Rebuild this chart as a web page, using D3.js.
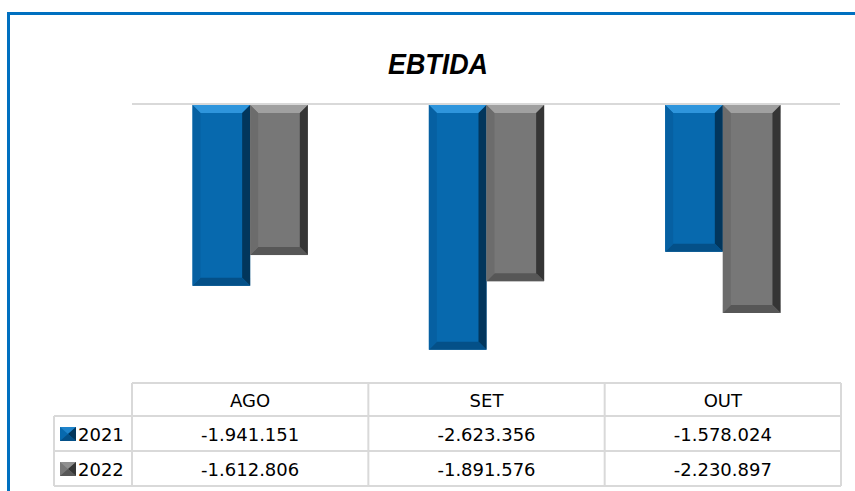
<!DOCTYPE html>
<html>
<head>
<meta charset="utf-8">
<script src="https://cdn.jsdelivr.net/npm/d3@7"></script>
<style>
  html, body { margin: 0; padding: 0; background: #ffffff; }
  svg { display: block; }
</style>
</head>
<body>
<svg id="chart" width="855" height="491"></svg>
<script>
const title = "EBTIDA";
const categories = ["AGO", "SET", "OUT"];
const seriesNames = ["2021", "2022"];
const values2021 = [-1941151, -2623356, -1578024];
const values2022 = [-1612806, -1891576, -2230897];
const yDomain = [-3000000, 0];

const seriesValues = [values2021, values2022];
const palette = {
  "2021": { main: "#0769ae", top: "#2e95dc", right: "#02365c", bottom: "#045088", left: "#0660a2" },
  "2022": { main: "#777777", top: "#a0a0a0", right: "#353535", bottom: "#575757", left: "#6c6c6c" }
};

const locale = d3.formatLocale({ decimal: ",", thousands: ".", grouping: [3], currency: ["", ""], minus: "-" });
const fmt = locale.format(",d");

const svg = d3.select("#chart");
const W = 855, H = 491;
svg.append("rect").attr("width", W).attr("height", H).attr("fill", "#ffffff");

// outer frame (only top and left visible)
svg.append("rect")
  .attr("x", 8.5).attr("y", 13.5).attr("width", 900).attr("height", 600)
  .attr("fill", "none").attr("stroke", "#0070c0").attr("stroke-width", 3);

// title
svg.append("text")
  .attr("x", 438).attr("y", 74)
  .attr("text-anchor", "middle")
  .attr("font-family", "'Liberation Sans', Arial, sans-serif")
  .attr("font-weight", "bold").attr("font-style", "italic")
  .attr("font-size", 30)
  .attr("textLength", 100).attr("lengthAdjust", "spacingAndGlyphs")
  .attr("fill", "#000")
  .text(title);

const plotLeft = 132, plotRight = 841;
const x0 = d3.scaleBand().domain(categories).range([plotLeft, plotRight]).paddingInner(0).paddingOuter(0);
const x1 = d3.scaleBand().domain(seriesNames).range([0, x0.bandwidth()]).paddingInner(0).paddingOuter(1.05);
const y = d3.scaleLinear().domain(yDomain).range([385, 104]);

// zero line
svg.append("line")
  .attr("x1", plotLeft).attr("x2", plotRight - 1)
  .attr("y1", y(0)).attr("y2", y(0))
  .attr("stroke", "#d9d9d9").attr("stroke-width", 2);

// bevelled bars
const bev = 8;
const data = [];
categories.forEach((c, i) => {
  seriesNames.forEach((s, j) => data.push({ cat: c, series: s, value: seriesValues[j][i] }));
});

const g = svg.append("g");
data.forEach(d => {
  const xL = x0(d.cat) + x1(d.series);
  const xR = xL + x1.bandwidth();
  const yT = y(0) + 1;
  const yB = y(d.value);
  const c = palette[d.series];
  const b = Math.min(bev, (yB - yT) / 2);
  const bar = g.append("g");
  bar.append("rect").attr("x", xL).attr("y", yT).attr("width", xR - xL).attr("height", yB - yT).attr("fill", c.main);
  const poly = (pts, fill) => bar.append("polygon").attr("points", pts.map(p => p.join(",")).join(" ")).attr("fill", fill);
  poly([[xL, yT], [xR, yT], [xR - b, yT + b], [xL + b, yT + b]], c.top);
  poly([[xR, yT], [xR, yB], [xR - b, yB - b], [xR - b, yT + b]], c.right);
  poly([[xL, yB], [xR, yB], [xR - b, yB - b], [xL + b, yB - b]], c.bottom);
  poly([[xL, yT], [xL + b, yT + b], [xL + b, yB - b], [xL, yB]], c.left);
});

// data table
const tableTop = 383, rowH = [33, 35, 35];
const legendLeft = 54;
const rowY = [tableTop, tableTop + rowH[0], tableTop + rowH[0] + rowH[1], tableTop + rowH[0] + rowH[1] + rowH[2]];
const tg = svg.append("g").attr("stroke", "#d9d9d9").attr("stroke-width", 2);
tg.append("line").attr("x1", plotLeft).attr("x2", plotRight).attr("y1", rowY[0]).attr("y2", rowY[0]);
[1, 2, 3].forEach(k => tg.append("line").attr("x1", legendLeft).attr("x2", plotRight).attr("y1", rowY[k]).attr("y2", rowY[k]));
tg.append("line").attr("x1", legendLeft).attr("x2", legendLeft).attr("y1", rowY[1]).attr("y2", rowY[3]);
const colEdges = categories.map(c => x0(c)).concat([plotRight]);
colEdges.forEach(xe => tg.append("line").attr("x1", xe).attr("x2", xe).attr("y1", rowY[0]).attr("y2", rowY[3]));

const fontFam = "'DejaVu Sans', sans-serif";
const fs = 18;
// header
categories.forEach(c => {
  svg.append("text")
    .attr("x", x0(c) + x0.bandwidth() / 2).attr("y", rowY[0] + 24)
    .attr("text-anchor", "middle").attr("font-family", fontFam).attr("font-size", fs).attr("fill", "#000")
    .text(c);
});
seriesNames.forEach((s, j) => {
  const yTop = rowY[j + 1];
  const base = yTop + 25;
  // legend key
  const kx = 60, ky = yTop + 11, kw = 16, kh = 14;
  const c = palette[s];
  const kg = svg.append("g");
  kg.append("rect").attr("x", kx).attr("y", ky).attr("width", kw).attr("height", kh).attr("fill", c.main);
  kg.append("polygon").attr("points", `${kx},${ky} ${kx + kw},${ky} ${kx + kw / 2},${ky + kh / 2}`).attr("fill", c.top).attr("opacity", 0.6);
  kg.append("polygon").attr("points", `${kx + kw},${ky} ${kx + kw},${ky + kh} ${kx + kw / 2},${ky + kh / 2}`).attr("fill", c.right);
  kg.append("polygon").attr("points", `${kx},${ky + kh} ${kx + kw},${ky + kh} ${kx + kw / 2},${ky + kh / 2}`).attr("fill", c.bottom);
  svg.append("text")
    .attr("x", 78).attr("y", base)
    .attr("font-family", fontFam).attr("font-size", fs).attr("fill", "#000")
    .text(s);
  categories.forEach((cat, i) => {
    svg.append("text")
      .attr("x", x0(cat) + x0.bandwidth() / 2).attr("y", base)
      .attr("text-anchor", "middle").attr("font-family", fontFam).attr("font-size", fs).attr("fill", "#000")
      .text(fmt(seriesValues[j][i]));
  });
});
</script>
</body>
</html>
